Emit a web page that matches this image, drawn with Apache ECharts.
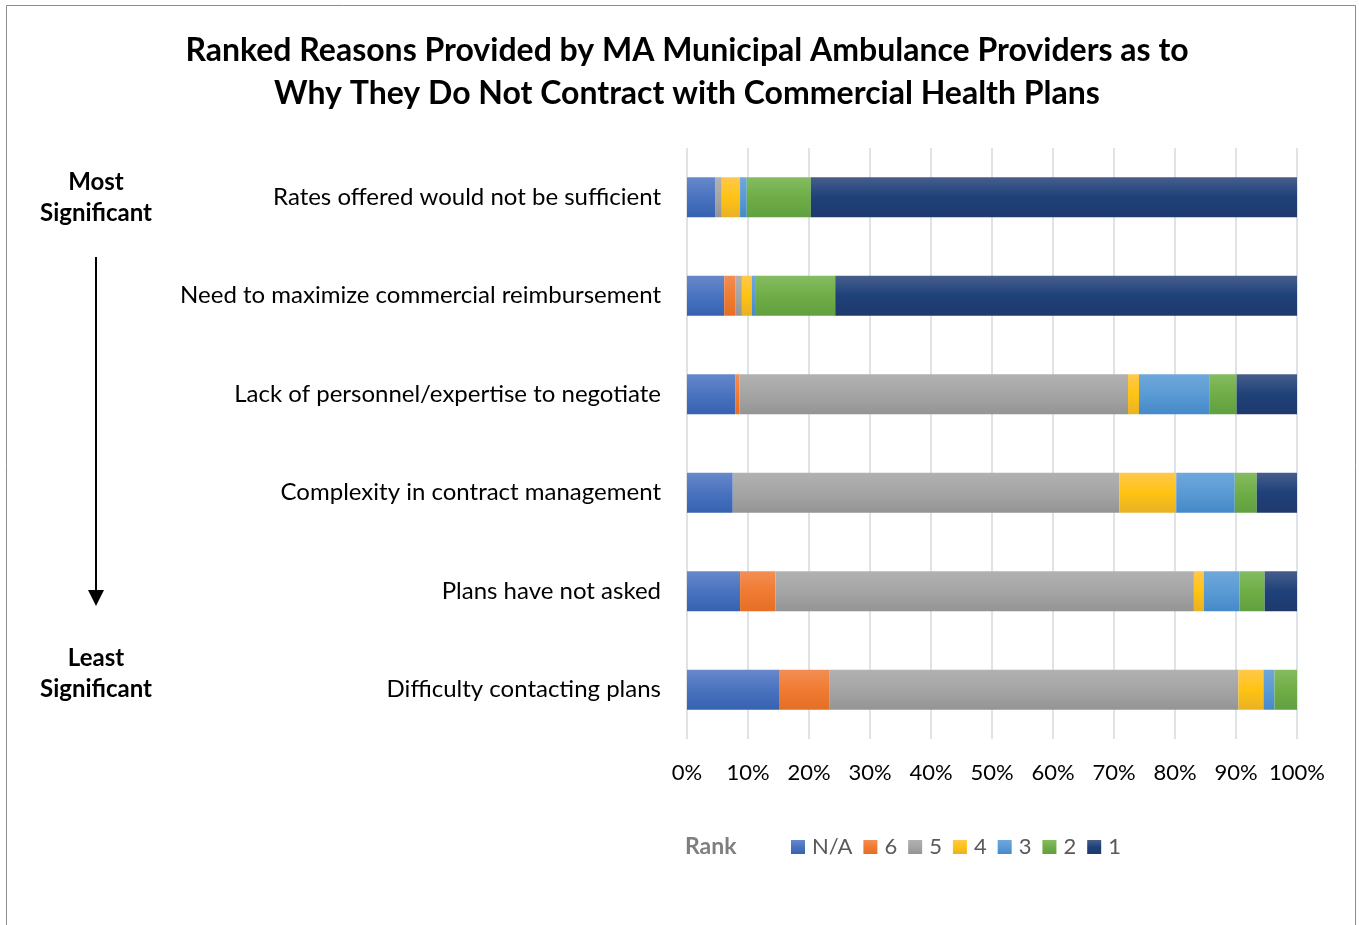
<!DOCTYPE html>
<html>
<head>
<meta charset="utf-8">
<script src="https://cdn.jsdelivr.net/npm/echarts@6/dist/echarts.min.js"></script>
<style>
  html, body { margin: 0; padding: 0; background: #fff; }
  #chart { width: 1359px; height: 925px; }
</style>
</head>
<body>
<div id="chart"></div>
<script>
// Reasons, listed from most to least significant
const categories = [
  'Rates offered would not be sufficient',
  'Need to maximize commercial reimbursement',
  'Lack of personnel/expertise to negotiate',
  'Complexity in contract management',
  'Plans have not asked',
  'Difficulty contacting plans'
];

// Share of providers (%) giving each rank, per reason
const rankNA = [4.6, 6.1, 7.9, 7.5, 8.7, 15.2];
const rank6  = [0,   1.8, 0.7, 0,   5.8, 8.2];
const rank5  = [1.1, 1.1, 63.7, 63.4, 68.6, 67.0];
const rank4  = [3.0, 1.6, 1.8, 9.3, 1.6, 4.1];
const rank3  = [1.1, 0.7, 11.5, 9.6, 5.9, 1.8];
const rank2  = [10.5, 13.0, 4.5, 3.6, 4.1, 3.8];
const rank1  = [79.7, 75.7, 9.9, 6.6, 5.3, 0];

const xTicks = ['0%', '10%', '20%', '30%', '40%', '50%', '60%', '70%', '80%', '90%', '100%'];

const FONT = 'Lato, "Open Sans", sans-serif';

function grad(top, mid, bottom) {
  return new echarts.graphic.LinearGradient(0, 0, 0, 1, [
    { offset: 0, color: top },
    { offset: 0.5, color: mid },
    { offset: 1, color: bottom }
  ]);
}

const seriesDefs = [
  { name: 'N/A', data: rankNA, color: grad('#6788cb', '#4a73bf', '#3562b0') },
  { name: '6',   data: rank6,  color: grad('#f38e54', '#f07b32', '#e66e25') },
  { name: '5',   data: rank5,  color: grad('#b1b1b1', '#a5a5a5', '#949494') },
  { name: '4',   data: rank4,  color: grad('#ffc84c', '#ffc312', '#e8b126') },
  { name: '3',   data: rank3,  color: grad('#6fa8da', '#5a9bd5', '#4589c8') },
  { name: '2',   data: rank2,  color: grad('#84bc60', '#70ad47', '#61a040') },
  { name: '1',   data: rank1,  color: grad('#475e8d', '#1e4179', '#1f396d') }
];

const chart = echarts.init(document.getElementById('chart'), null, { renderer: 'canvas' });

chart.setOption({
  animation: false,
  backgroundColor: '#ffffff',
  title: {
    text: 'Ranked Reasons Provided by MA Municipal Ambulance Providers as to\nWhy They Do Not Contract with Commercial Health Plans',
    left: 682,
    textAlign: 'center',
    top: 24,
    textStyle: {
      fontFamily: FONT,
      fontSize: 32,
      fontWeight: 'bold',
      color: '#000',
      lineHeight: 43
    }
  },
  legend: {
    data: seriesDefs.map(s => s.name),
    left: 786,
    top: 831,
    itemWidth: 14,
    itemHeight: 14,
    itemGap: 11,
    icon: 'rect',
    textStyle: { fontFamily: FONT, fontSize: 22, color: '#595959', padding: [0, 0, 0, 2] }
  },
  grid: {
    left: 687,
    right: 62,
    top: 148,
    bottom: 186,
    containLabel: false
  },
  xAxis: {
    type: 'value',
    min: 0,
    max: 100,
    interval: 10,
    axisLine: { show: false },
    axisTick: { show: false },
    splitLine: { show: true, lineStyle: { color: '#dfe3e8', width: 2 } },
    axisLabel: {
      margin: 23,
      fontFamily: FONT,
      fontSize: 22,
      color: '#000',
      formatter: (v) => xTicks[Math.round(v / 10)]
    }
  },
  yAxis: {
    type: 'category',
    data: categories,
    inverse: true,
    axisLine: { show: false },
    axisTick: { show: false },
    axisLabel: {
      margin: 26,
      fontFamily: FONT,
      fontSize: 24,
      color: '#000'
    }
  },
  series: seriesDefs.map(s => ({
    name: s.name,
    type: 'bar',
    stack: 'rank',
    barWidth: 40,
    data: s.data,
    itemStyle: { color: s.color },
    emphasis: { disabled: true }
  })),
  graphic: [
    // chart frame
    {
      type: 'rect',
      shape: { x: 6.5, y: 5.5, width: 1349, height: 940 },
      style: { fill: 'none', stroke: '#8c8c8c', lineWidth: 1 },
      silent: true
    },
    {
      type: 'text',
      left: 685,
      top: 835,
      style: { text: 'Rank', fontFamily: FONT, fontSize: 23, fontWeight: 'bold', fill: '#7f7f7f' }
    },
    {
      type: 'text',
      x: 96,
      y: 167,
      style: {
        text: 'Most\nSignificant',
        align: 'center',
        fontFamily: FONT, fontSize: 24, fontWeight: 'bold', fill: '#000', lineHeight: 31
      }
    },
    {
      type: 'text',
      x: 96,
      y: 643,
      style: {
        text: 'Least\nSignificant',
        align: 'center',
        fontFamily: FONT, fontSize: 24, fontWeight: 'bold', fill: '#000', lineHeight: 31
      }
    },
    {
      type: 'line',
      shape: { x1: 96, y1: 257, x2: 96, y2: 592 },
      style: { stroke: '#000', lineWidth: 2 }
    },
    {
      type: 'polygon',
      shape: { points: [[88, 590], [104, 590], [96, 606]] },
      style: { fill: '#000' }
    }
  ]
});
</script>
</body>
</html>
